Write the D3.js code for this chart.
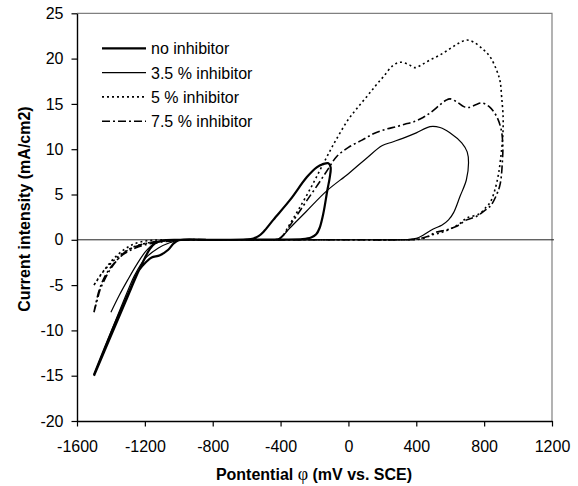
<!DOCTYPE html>
<html>
<head>
<meta charset="utf-8">
<script src="https://cdn.jsdelivr.net/npm/d3@7"></script>
<style>
  body { margin: 0; background: #fff; }
  #container { width: 578px; height: 486px; }
  text { font-family: "Liberation Sans", Arial, sans-serif; }
</style>
</head>
<body>
<div id="container"></div>
<script>
const xTicks = [-1600, -1200, -800, -400, 0, 400, 800, 1200];
const yTicks = [-20, -15, -10, -5, 0, 5, 10, 15, 20, 25];
const seriesNames = ["no inhibitor", "3.5 % inhibitor", "5 % inhibitor", "7.5 % inhibitor"];

// potential (mV), current (mA/cm2)
const noInhibitor = [
  [-1500,-15],[-1400,-10.6],[-1300,-6.2],[-1250,-4.0],[-1220,-2.8],[-1200,-2.0],[-1170,-1.0],
  [-1140,-0.4],[-1100,-0.1],[-1000,0],[-800,0],[-600,0.05],[-560,0.15],[-530,0.4],[-500,0.9],
  [-443,2.2],[-344,4.4],[-246,6.9],[-187,8.0],[-150,8.35],[-118,8.45],[-105,8.0],[-110,6.9],
  [-124,5.5],[-148,2.9],[-170,1.3],[-190,0.6],[-220,0.25],[-270,0.08],[-400,0.03],[-800,0],
  [-1000,-0.05],[-1030,-0.4],[-1062,-1.1],[-1111,-1.7],[-1160,-1.95],[-1190,-2.4],[-1240,-3.5],
  [-1290,-5.6],[-1400,-10.3],[-1500,-14.9]
];
const inhibitor35 = [
  [-1400,-8.0],[-1350,-6.1],[-1300,-4.4],[-1250,-2.8],[-1200,-1.4],[-1150,-0.5],[-1100,-0.15],
  [-1000,0],[-800,0],[-600,0],[-450,0],[-420,0.05],[-395,0.25],[-350,1.2],[-250,3.1],[-128,5.4],
  [0,7.3],[100,8.9],[200,10.4],[260,10.8],[320,11.2],[400,11.8],[481,12.5],[540,12.4],[600,11.8],
  [668,10.7],[700,9.7],[708,8.5],[695,6.6],[658,4.8],[620,3.0],[590,2.2],[550,1.6],[500,1.2],
  [440,0.5],[400,0.15],[350,0.03],[250,0],[0,0],[-400,0],[-800,0],[-1000,-0.05],[-1050,-0.3],
  [-1120,-0.9],[-1200,-2.1],[-1260,-3.9],[-1300,-5.6],[-1400,-10.2],[-1500,-14.9]
];
const inhibitor5 = [
  [-1500,-5.0],[-1460,-3.9],[-1425,-3.0],[-1380,-2.0],[-1327,-1.15],[-1280,-0.6],[-1229,-0.25],
  [-1150,-0.05],[-1000,0],[-600,0],[-450,0],[-410,0.1],[-385,0.5],[-350,1.6],[-295,3.3],
  [-220,5.8],[-148,8.4],[-80,10.8],[0,13.3],[50,14.5],[108,15.8],[160,17.0],[206,18.0],
  [260,19.2],[304,19.6],[350,19.4],[392,19.0],[430,19.3],[481,19.85],[540,20.4],[599,21.1],
  [650,21.7],[697,22.05],[740,21.8],[795,21.0],[835,20.2],[874,18.7],[894,17.5],[903,15.8],
  [912,13.5],[910,11.5],[903,10.0],[885,7.3],[860,5.3],[835,4.1],[815,3.7],[776,2.9],[697,2.4],
  [658,1.8],[600,1.2],[540,0.75],[500,0.6],[450,0.2],[400,0.03],[300,0],[0,0],[-400,0],[-800,0],
  [-1000,-0.05],[-1100,-0.15],[-1200,-0.4],[-1280,-0.9],[-1340,-1.6],[-1400,-2.6],[-1450,-3.6],
  [-1500,-5.0]
];
const inhibitor75 = [
  [-1500,-8.0],[-1480,-6.6],[-1464,-5.5],[-1440,-4.5],[-1405,-3.3],[-1370,-2.4],[-1327,-1.5],
  [-1280,-0.95],[-1229,-0.57],[-1180,-0.35],[-1130,-0.2],[-1050,-0.05],[-1000,0],[-600,0],
  [-440,0],[-410,0.1],[-380,0.6],[-340,1.7],[-300,2.8],[-250,4.2],[-180,6.1],[-120,7.8],
  [-69,9.2],[0,10.2],[80,11.0],[147,11.7],[220,12.2],[285,12.5],[340,12.8],[382,13.0],
  [440,13.5],[481,14.0],[540,14.9],[575,15.4],[600,15.55],[640,15.2],[680,14.7],[707,14.6],
  [750,14.9],[786,15.1],[830,14.7],[874,13.6],[900,12.2],[910,10.5],[908,8.8],[895,6.2],
  [874,5.0],[840,3.8],[815,3.4],[756,2.6],[697,2.2],[638,1.5],[580,1.1],[520,0.85],[470,0.4],
  [422,0.15],[380,0.02],[300,0],[0,0],[-400,0],[-800,0],[-1000,-0.05],[-1100,-0.25],
  [-1200,-0.55],[-1280,-1.1],[-1340,-1.8],[-1400,-3.0],[-1440,-4.2],[-1470,-5.6],[-1500,-8.0]
];

const seriesData = [noInhibitor, inhibitor35, inhibitor5, inhibitor75];
const seriesStyle = [
  {width: 2.2, dash: null},
  {width: 1.2, dash: null},
  {width: 1.6, dash: "2,3"},
  {width: 1.6, dash: "8,3,2,3"}
];

const margin = {top: 13.3, right: 26, bottom: 65, left: 77};
const width = 578 - margin.left - margin.right;
const height = 486 - margin.top - margin.bottom;

const root = d3.select("#container")
  .append("svg")
  .attr("width", 578)
  .attr("height", 486)
  .style("background", "#fff");

const svg = root.append("g")
  .attr("transform", `translate(${margin.left},${margin.top})`);

const x = d3.scaleLinear().domain([-1600, 1200]).range([0, width]);
const y = d3.scaleLinear().domain([-20, 25]).range([height, 0]);

// frame (top and right)
svg.append("path")
  .attr("d", `M0,0H${width}V${height}`)
  .attr("fill", "none")
  .attr("stroke", "#808080")
  .attr("stroke-width", 1.2);

// zero line
svg.append("line")
  .attr("x1", 0)
  .attr("x2", width + 2)
  .attr("y1", y(0))
  .attr("y2", y(0))
  .attr("stroke", "#222")
  .attr("stroke-width", 1);

const line = d3.line()
  .x(d => x(d[0]))
  .y(d => y(d[1]))
  .curve(d3.curveCatmullRom.alpha(0.5));

seriesData.forEach((data, i) => {
  svg.append("path")
    .datum(data)
    .attr("d", line)
    .attr("fill", "none")
    .attr("stroke", "#000")
    .attr("stroke-width", seriesStyle[i].width)
    .attr("stroke-dasharray", seriesStyle[i].dash)
    .attr("stroke-linejoin", "round");
});

// axes
const xAxis = svg.append("g")
  .attr("transform", `translate(0,${height})`)
  .call(d3.axisBottom(x).tickValues(xTicks).tickFormat(d3.format("d")).tickSize(5.5).tickSizeOuter(0).tickPadding(14));

const yAxis = svg.append("g")
  .call(d3.axisLeft(y).tickValues(yTicks).tickFormat(d3.format("d")).tickSize(5.5).tickSizeOuter(0).tickPadding(8));

[xAxis, yAxis].forEach(a => {
  a.select(".domain").attr("stroke", "#000").attr("stroke-width", 1.4);
  a.selectAll(".tick line").attr("stroke", "#000").attr("stroke-width", 1.2);
  a.selectAll(".tick text")
    .attr("fill", "#000")
    .style("font-size", "16px")
    .style("font-family", "'Liberation Sans', Arial, sans-serif");
});
xAxis.selectAll(".tick text").text(d => d < 0 ? "-" + Math.abs(d) : d);
yAxis.selectAll(".tick text").text(d => d < 0 ? "-" + Math.abs(d) : d);

// legend
const legend = svg.append("g").attr("transform", "translate(25,41)");
seriesNames.forEach((name, i) => {
  legend.append("line")
    .attr("x1", 0)
    .attr("x2", 44)
    .attr("y1", i * 24.3 - 6)
    .attr("y2", i * 24.3 - 6)
    .attr("stroke", "#000")
    .attr("stroke-width", seriesStyle[i].width)
    .attr("stroke-dasharray", seriesStyle[i].dash);
  legend.append("text")
    .attr("x", 49)
    .attr("y", i * 24.3)
    .style("font-size", "16px")
    .attr("fill", "#000")
    .text(name);
});

// axis titles
root.append("text")
  .attr("transform", "translate(30,209) rotate(-90)")
  .attr("text-anchor", "middle")
  .style("font-size", "16px")
  .style("font-weight", "bold")
  .text("Current intensity (mA/cm2)");

const xTitle = root.append("text")
  .attr("x", 314)
  .attr("y", 480)
  .attr("text-anchor", "middle")
  .style("font-size", "16px")
  .style("font-weight", "bold");
xTitle.append("tspan").text("Pontential ");
xTitle.append("tspan")
  .style("font-family", "'Liberation Serif', serif")
  .style("font-weight", "normal")
  .style("font-size", "18px")
  .text("φ");
xTitle.append("tspan").text(" (mV vs. SCE)");
</script>
</body>
</html>
